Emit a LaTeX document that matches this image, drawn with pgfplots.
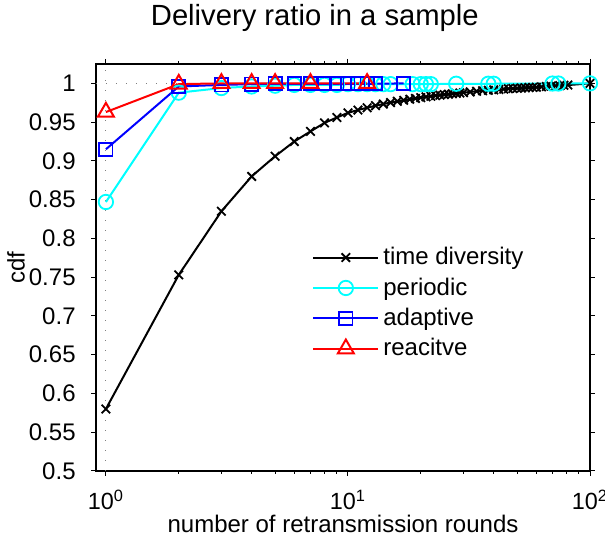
\documentclass[border=0pt]{standalone}
\usepackage{fontspec}
\setmainfont{Liberation Sans}
\usepackage{pgfplots}
\pgfplotsset{compat=1.18}
\definecolor{mcyan}{rgb}{0,1,1}
\definecolor{mblue}{rgb}{0,0,1}
\definecolor{mred}{rgb}{1,0,0}
\begin{document}
\begin{tikzpicture}
\begin{axis}[
  scale only axis, width=247pt, height=203.5pt,
  font=\fontsize{12}{14}\selectfont,
  xmode=log, xmin=0.91, xmax=100, ymin=0.5, ymax=1.025,
  xtick={1,10,100},
  xticklabels={10\textsuperscript{0},10\textsuperscript{1},10\textsuperscript{2}},
  ytick={0.5,0.55,0.6,0.65,0.7,0.75,0.8,0.85,0.9,0.95,1},
  yticklabels={0.5,0.55,0.6,0.65,0.7,0.75,0.8,0.85,0.9,0.95,1},
  xticklabel style={anchor=base, inner sep=0pt, yshift=-17pt, font=\fontsize{11.7}{14}\selectfont},
  yticklabel style={anchor=east, inner sep=0pt, xshift=-7.5pt},
  tick align=outside, major tick length=2.5pt, minor tick length=1.5pt,
  tick style={black, line width=0.5pt},
  axis line style={line width=0.6pt},
  title={Delivery ratio in a sample},
  title style={at={(0.443,1.064)}, anchor=base, font=\fontsize{14.6}{17}\selectfont},
  xlabel={number of retransmission rounds},
  xlabel style={at={(0.5,-0.152)}, anchor=base},
  ylabel={cdf},
  ylabel style={at={(-0.162,0.5)}, anchor=center},
  legend style={draw=none, fill=none, at={(0.425,0.57)}, anchor=north west,
    row sep=1pt, font=\fontsize{12}{14}\selectfont},
  legend cell align=left,
  legend image code/.code={\draw[mark repeat=2,mark phase=2] plot coordinates {(0pt,0pt) (16.25pt,0pt) (32.5pt,0pt)};},
]
\coordinate (SW) at (rel axis cs:0,0);
\coordinate (NE) at (rel axis cs:1,1);
\draw[gray, line width=0.5pt, dash pattern=on 0.6pt off 4.4pt] (axis cs:1,0.5) -- (axis cs:1,1.025);
\draw[gray, line width=0.5pt, dash pattern=on 0.6pt off 4.4pt] (axis cs:0.91,1) -- (axis cs:100,1);
\addplot[black, line width=1pt, mark=x, mark size=3pt, mark options={line width=0.9pt}] coordinates {
(1,0.580) (2,0.753) (3,0.835) (4,0.880) (5,0.906) (6,0.925) (7,0.938) (8,0.949) (9,0.956) (10,0.962)
(11,0.9656) (12,0.9686) (13,0.9712) (14,0.9733) (15,0.9752) (16,0.9768) (17,0.9782) (18,0.9795) (19,0.9806) (20,0.9816)
(21,0.9826) (22,0.9834) (23,0.9841) (24,0.9848) (25,0.9855) (26,0.9861) (27,0.9866) (28,0.9871) (29,0.9876) (30,0.9880)
(32,0.9889) (34,0.9898) (36,0.9905) (38,0.9911) (40,0.9916) (42,0.9921) (44,0.9926) (46,0.9930) (48,0.9934) (50,0.9937)
(52,0.9940) (54,0.9943) (56,0.9946) (58,0.9948) (60,0.9950) (63,0.9955) (66,0.9960) (69,0.9964) (72,0.9968) (75,0.9972)
(78,0.9975) (81,0.9978) (100,1.000)
};
\addlegendentry{time diversity}
\addplot[mcyan, line width=1pt, mark=o, mark size=3.6pt, mark options={line width=0.9pt}] coordinates {
(1,0.847) (2,0.988) (3,0.994) (4,0.996) (5,0.997) (6,0.998) (7,0.998) (8,0.998) (9,0.998) (10,0.999)
(11,0.999) (12,0.999) (13,0.999) (14,0.999) (15,0.999) (18.5,0.999) (20,0.999) (21,0.999) (22,0.999) (28,0.9995)
(38,0.9995) (40,0.9995) (70,0.9998) (74,0.9998) (100,1.000)
};
\addlegendentry{periodic}
\addplot[mblue, line width=1pt, mark=square, mark size=3.3pt, mark options={line width=0.9pt}] coordinates {
(1,0.915) (2,0.996) (3,0.998) (4,0.999) (5,0.9995) (6,0.9995) (7,0.9995) (8,0.9995) (9,0.9995) (10,0.9995)
(11,0.9995) (12,0.9995) (13,0.9995) (17,1.000)
};
\addlegendentry{adaptive}
\addplot[mred, line width=1pt, mark=triangle, mark size=4.6pt, mark options={line width=1pt}] coordinates {
(1,0.963) (2,0.999) (3,1.000) (4,1.000) (5,1.000) (7,1.000) (12,1.000)
};
\addlegendentry{reacitve}
\end{axis}
\pgfresetboundingbox
\path ([shift={(-48pt,-33.5pt)}]SW) rectangle ([shift={(7.5pt,32pt)}]NE);
\end{tikzpicture}
\end{document}
